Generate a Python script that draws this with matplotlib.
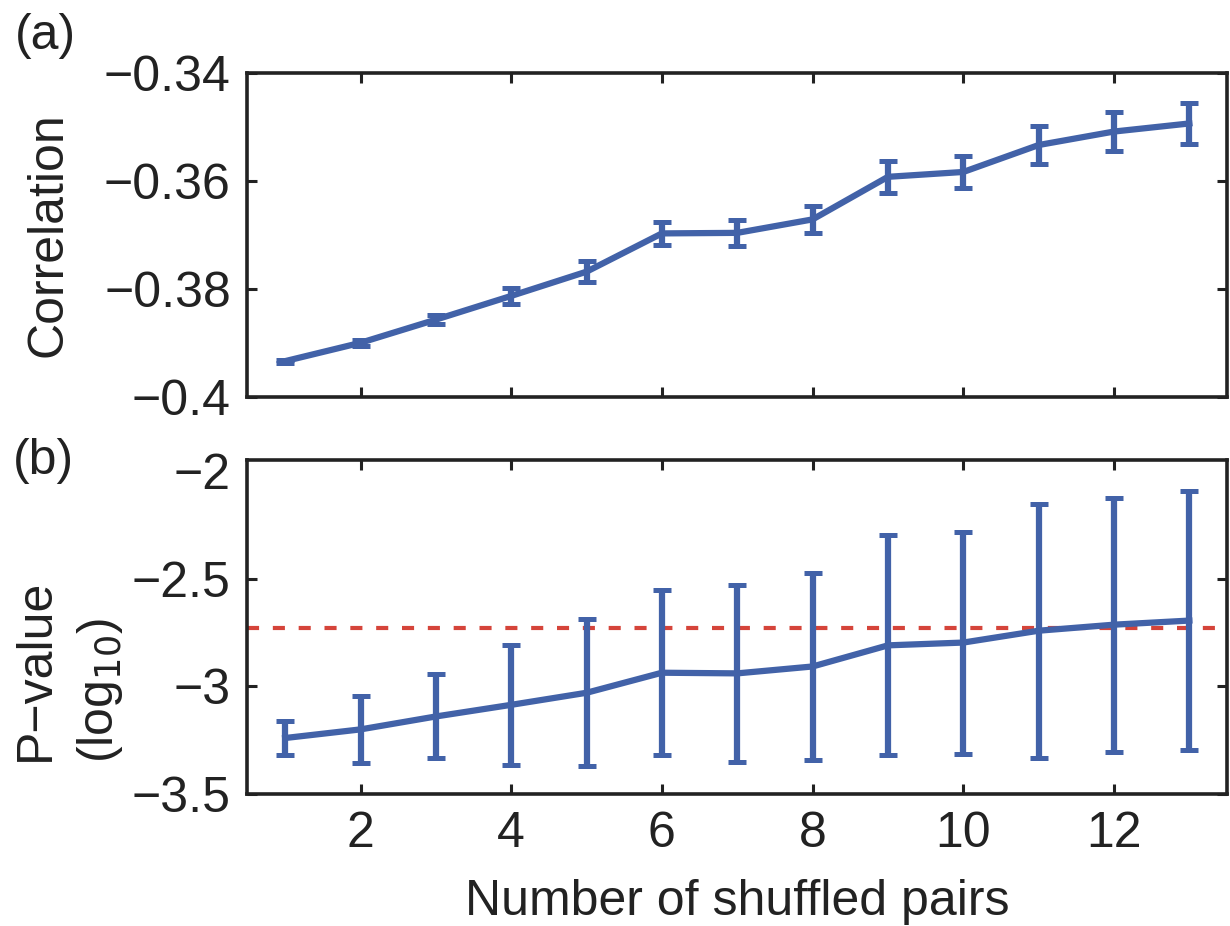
import numpy as np
import matplotlib
matplotlib.use("Agg")
import matplotlib.pyplot as plt

plt.rcParams['font.family'] = ['Liberation Sans', 'DejaVu Sans']

label_fontsize = 36
line_color = '#4262a8'
thresh_color = '#d5443a'
line_width = 4.5
spine_width = 2.6

pairs = np.arange(1, 14)

# correlation between the two series, mean and s.e.
corr_mean = [-0.3934, -0.3900, -0.3857, -0.3813, -0.3768, -0.3697, -0.3696,
             -0.3671, -0.3592, -0.3583, -0.3533, -0.3508, -0.3493]
corr_err = [0.0003, 0.0006, 0.0009, 0.0015, 0.0019, 0.0022, 0.0024,
            0.0025, 0.0030, 0.0030, 0.0036, 0.0036, 0.0038]

# log10 p-values, mean and spread
pval_mean = [-3.24, -3.20, -3.14, -3.086, -3.03, -2.937, -2.94,
             -2.908, -2.81, -2.797, -2.742, -2.714, -2.695]
pval_err = [0.079, 0.157, 0.195, 0.279, 0.34, 0.382, 0.41,
            0.432, 0.51, 0.515, 0.59, 0.59, 0.60]
p_threshold = -2.73

x_ticks = [2, 4, 6, 8, 10, 12]
corr_ticks = [-0.4, -0.38, -0.36, -0.34]
corr_ticklabels = ['\u22120.4', '\u22120.38', '\u22120.36', '\u22120.34']
pval_ticks = [-3.5, -3, -2.5, -2]
pval_ticklabels = ['\u22123.5', '\u22123', '\u22122.5', '\u22122']

fig = plt.figure(figsize=(12.3, 9.26), dpi=100)
ax1 = fig.add_axes([0.2012, 0.5716, 0.7964, 0.3492])
ax2 = fig.add_axes([0.2012, 0.1425, 0.7964, 0.3607])


def style_axes(ax):
    for s in ax.spines.values():
        s.set_linewidth(spine_width)
        s.set_color('#222222')
    ax.tick_params(direction='in', length=7, width=2.2, top=True, right=True,
                   labelsize=label_fontsize, color='#222222', labelcolor='#222222')
    ax.tick_params(axis='y', pad=12)
    ax.tick_params(axis='x', pad=12)
    ax.set_xlim(0.5, 13.5)
    ax.set_xticks(x_ticks)


# (a) correlation
ax1.errorbar(pairs, corr_mean, yerr=corr_err, color=line_color, lw=line_width,
             elinewidth=line_width, capsize=6.5, capthick=3.6)
style_axes(ax1)
ax1.set_ylim(-0.4, -0.34)
ax1.set_yticks(corr_ticks)
ax1.set_yticklabels(corr_ticklabels)
ax1.set_xticklabels([])
ax1.set_ylabel('Correlation', fontsize=label_fontsize, color='#222222')
ax1.yaxis.set_label_coords(-0.18, 0.5)

# (b) p-values
ax2.axhline(p_threshold, color=thresh_color, lw=3, dashes=(2.9, 3.3))
ax2.errorbar(pairs, pval_mean, yerr=pval_err, color=line_color, lw=line_width,
             elinewidth=line_width, capsize=6.5, capthick=3.6)
style_axes(ax2)
ax2.set_ylim(-3.5, -1.95)
ax2.set_yticks(pval_ticks)
ax2.set_yticklabels(pval_ticklabels)
# no tick mark at -2, only its label
top_tick = ax2.yaxis.get_major_ticks()[-1]
top_tick.tick1line.set_visible(False)
top_tick.tick2line.set_visible(False)
ax2.set_xticklabels([str(t) for t in x_ticks])
ax2.set_xlabel('Number of shuffled pairs', fontsize=label_fontsize,
               color='#222222', labelpad=16)

fig.text(36 / 1230, 1 - 670 / 926, 'P\u2212value', rotation=90, ha='center',
         va='center', fontsize=label_fontsize, color='#222222')
fig.text(100 / 1230, 1 - 690 / 926, '(log$_{10}$)', rotation=90, ha='center',
         va='center', fontsize=label_fontsize, color='#222222')

fig.text(15 / 1230, 1 - 36 / 926, '(a)', ha='left', va='center',
         fontsize=label_fontsize, color='#222222')
fig.text(13 / 1230, 1 - 461 / 926, '(b)', ha='left', va='center',
         fontsize=label_fontsize, color='#222222')

plt.savefig('out.png', dpi=100)
